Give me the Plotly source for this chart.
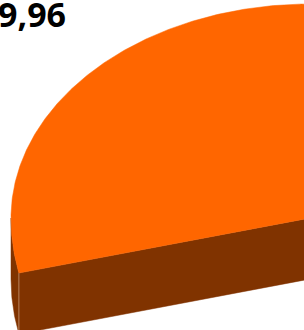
import math
import numpy as np
import plotly.graph_objects as go

# ---- data ----
slice_labels = ["9,96"]          # visible data label (partly cropped in the reference)
slice_edge_deg = [193.2]         # angle of the front radial edge of the visible slice
slice_far_deg = [60.0]           # far edge (off-canvas)
slice_colors = ["#FF6600"]
side_colors = ["#803300"]

# ---- geometry / style of the 3-D pie (projection) ----
W, H = 304, 330
cx, cy = 310.0, 218.0      # pie centre in canvas pixels
a = 299.0                  # horizontal radius
b_up, b_low = 214.0, 241.0 # perspective: far half flatter than near half
depth = 61.0               # extrusion height


def pt(deg, dz=0.0):
    t = math.radians(deg)
    s = math.sin(t)
    b = b_up if s > 0 else b_low
    return cx + a * math.cos(t), cy - b * s + dz


fig = go.Figure()

for lab, d0, d1, col, scol in zip(slice_labels, slice_edge_deg, slice_far_deg,
                                  slice_colors, side_colors):
    vx, vy = pt(d0)
    # radial cut face
    fig.add_trace(go.Scatter(
        x=[vx, cx, cx, vx, vx], y=[vy, cy, cy + depth, vy + depth, vy],
        mode="lines", fill="toself", fillcolor=scol,
        line=dict(color=scol, width=0.5), hoverinfo="skip", showlegend=False))
    # outer curved side (front-facing part)
    degs = np.linspace(180.0, d0, 60)
    top = [pt(d) for d in degs]
    bot = [pt(d, depth) for d in degs[::-1]]
    xs = [p[0] for p in top + bot]
    ys = [p[1] for p in top + bot]
    fig.add_trace(go.Scatter(
        x=xs + [xs[0]], y=ys + [ys[0]], mode="lines", fill="toself",
        fillcolor=scol, line=dict(color=scol, width=0.5),
        hoverinfo="skip", showlegend=False))
    # top face
    degs = np.linspace(d0, d1, 300)
    arc = [pt(d) for d in degs]
    xs = [cx] + [p[0] for p in arc] + [cx]
    ys = [cy] + [p[1] for p in arc] + [cy]
    fig.add_trace(go.Scatter(
        x=xs, y=ys, mode="lines", fill="toself", fillcolor=col,
        line=dict(color=col, width=0.5), hoverinfo="skip", showlegend=False))
    # pale edge between curved side and cut face
    fig.add_trace(go.Scatter(
        x=[vx, vx], y=[vy, vy + depth], mode="lines",
        line=dict(color="#b8805a", width=1), hoverinfo="skip", showlegend=False))

fig.add_annotation(
    x=0, y=0, xref="x", yref="y", xanchor="left", yanchor="top",
    text="<b>" + slice_labels[0] + "</b>", showarrow=False,
    font=dict(family="Open Sans", size=34, color="#000000"),
    xshift=-4, yshift=11)

fig.update_layout(
    width=W, height=H, margin=dict(l=0, r=0, t=0, b=0),
    paper_bgcolor="white", plot_bgcolor="white",
    xaxis=dict(range=[0, W], visible=False, fixedrange=True),
    yaxis=dict(range=[H, 0], visible=False, fixedrange=True),
)

fig.write_html("out.html", config={"staticPlot": True},
               post_script="document.body.style.margin='0';"
                           "document.body.style.overflow='hidden';")
